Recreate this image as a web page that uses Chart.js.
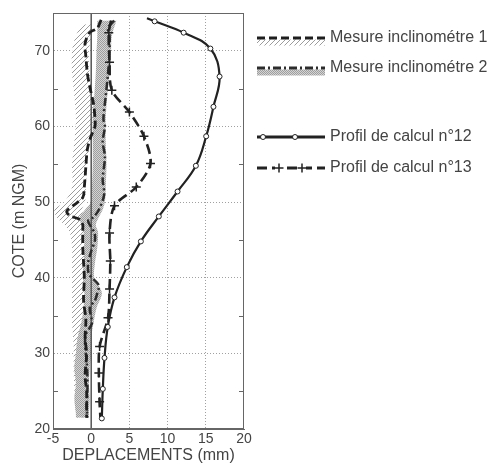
<!DOCTYPE html>
<html>
<head>
<meta charset="utf-8">
<script src="https://cdn.jsdelivr.net/npm/chart.js@4.4.0/dist/chart.umd.min.js"></script>
<style>
  html, body { margin: 0; padding: 0; background: #fff; }
  canvas { display: block; }
</style>
</head>
<body>
<canvas id="profilChart" width="489" height="464"></canvas>
<script>
// Mesure inclinometre 1 (dashed line)
var incl1Cote = [74.1, 73, 72.4, 71, 69.3, 67, 65.3, 63, 61, 60, 58.5, 57, 54.7, 52, 50.6, 49.5, 48.8, 48.2, 47.7, 47, 46.5, 44, 42, 40, 37, 34.5, 32, 30, 27, 25, 22, 21.5];
var incl1Depl = [1.3, 0.8, -0.2, -0.8, -0.7, -0.5, -0.2, 0.3, 0.5, 0.5, -0.1, -0.5, -0.7, -0.9, -1.1, -2.4, -3.2, -2.8, -1.5, -1.1, -1.1, -1.1, -1.0, -0.9, -1.0, -0.7, -0.8, -0.6, -0.8, -0.6, -0.6, -0.6];

// Mesure inclinometre 2 (dash-dot line)
var incl2Cote = [74, 73, 72, 70, 67, 64, 61, 60, 58, 56, 53, 51, 49, 48, 47.5, 46, 45, 43.5, 42, 40.5, 39, 38, 37, 36, 34, 32.5, 31, 29, 27, 25, 23, 21.5];
var incl2Depl = [3.0, 2.2, 2.4, 2.4, 2.2, 1.9, 1.6, 1.8, 1.5, 1.8, 1.5, 1.7, 1.0, 0.3, -0.4, 0.4, 0.5, 0.0, -0.4, -0.3, 1.0, 0.8, 0.5, -0.2, 0.1, -0.7, -0.8, -0.6, -0.5, -0.5, -0.6, -0.5];

// hatched envelope of inclinometre 1
var band1Cote = [73.5, 72, 70, 67, 64, 61, 58, 55, 52, 50, 49, 48, 47, 46, 44, 42, 40, 37, 34, 31, 28, 25, 22, 21.5];
var band1Min = [-1.2, -2.0, -2.5, -2.5, -2.2, -2.0, -2.2, -2.5, -2.5, -3.5, -4.8, -4.5, -3.5, -2.8, -2.5, -2.5, -2.5, -2.5, -2.5, -2.3, -2.3, -2.2, -2.0, -2.0];
var band1Max = [0.0, 0.0, -0.3, -0.2, 0.2, 0.4, -0.2, -0.5, -0.7, -0.8, -1.2, -0.9, -0.6, -0.5, -0.6, -0.5, -0.6, -0.6, -0.5, -0.5, -0.5, -0.3, -0.3, -0.3];

// grey envelope of inclinometre 2
var band2Cote = [74, 72, 70, 67, 64, 61, 58, 55, 52, 50, 49, 48, 47, 46, 44, 42, 40, 38, 36, 34, 32, 30, 28, 26, 24, 22, 21.5];
var band2Min = [0.8, 0.8, 0.7, 0.6, 0.4, 0.2, 0.2, 0.2, 0.1, 0.0, -0.8, -1.5, -1.3, -1.0, -0.9, -1.0, -1.1, -0.9, -1.0, -1.3, -1.8, -2.0, -2.2, -2.0, -2.2, -2.0, -2.0];
var band2Max = [3.3, 2.7, 2.6, 2.4, 2.1, 1.9, 1.9, 2.0, 1.9, 1.8, 1.5, 1.0, 0.6, 0.9, 0.8, 0.5, 0.4, 1.4, 0.7, 0.3, 0.0, 0.0, -0.2, -0.3, -0.2, -0.3, -0.3];

// Profil de calcul n°12 (solid, circles)
var p12Cote = [74.3, 73.9, 72.4, 70.3, 66.6, 62.6, 58.7, 54.8, 51.4, 48.1, 44.8, 41.4, 37.4, 33.5, 29.4, 25.3, 21.4];
var p12Depl = [7.3, 8.3, 12.1, 15.6, 16.8, 16.0, 15.05, 13.7, 11.3, 8.85, 6.5, 4.66, 3.05, 2.17, 1.74, 1.52, 1.39];

// Profil de calcul n°13 (dashed, crosses)
var p13Cote = [74, 72.4, 68.5, 64.8, 61.9, 58.7, 55.1, 52.0, 49.5, 45.9, 42.2, 38.5, 34.7, 30.9, 27.4, 23.6, 21.6];
var p13Depl = [2.6, 2.3, 2.4, 2.7, 5.0, 6.9, 7.76, 5.9, 3.05, 2.4, 2.5, 2.4, 2.2, 1.1, 1.0, 1.1, 1.2];

var zeroCote = [20, 75];

var xTicks = [-5, 0, 5, 10, 15, 20];
var yTicks = [20, 30, 40, 50, 60, 70];

var labels = {
    incl1: 'Mesure inclinométre 1',
    incl2: 'Mesure inclinométre 2',
    p12: 'Profil de calcul n°12',
    p13: 'Profil de calcul n°13'
};

function pts(cote, depl) {
    return cote.map(function (c, i) { return { x: depl[i], y: c }; });
}

Chart.defaults.font.family = '"Liberation Sans", Arial, sans-serif';
Chart.defaults.color = '#444';

var canvas = document.getElementById('profilChart');
var ctx = canvas.getContext('2d');

function makeHatch() {
    var c = document.createElement('canvas');
    c.width = 5; c.height = 5;
    var g = c.getContext('2d');
    g.fillStyle = '#fff';
    g.fillRect(0, 0, 5, 5);
    g.strokeStyle = '#9c9c9c';
    g.lineWidth = 1;
    g.beginPath();
    g.moveTo(-1, 6); g.lineTo(6, -1);
    g.moveTo(-1, 1); g.lineTo(1, -1);
    g.moveTo(4, 6); g.lineTo(6, 4);
    g.stroke();
    return ctx.createPattern(c, 'repeat');
}

function makeStipple() {
    var c = document.createElement('canvas');
    c.width = 2; c.height = 2;
    var g = c.getContext('2d');
    g.fillStyle = '#d4d4d4';
    g.fillRect(0, 0, 2, 2);
    g.fillStyle = '#9e9e9e';
    g.fillRect(0, 0, 1, 1);
    g.fillRect(1, 1, 1, 1);
    return ctx.createPattern(c, 'repeat');
}

var hatch = makeHatch();
var stipple = makeStipple();

// frame + small inside ticks (like the matlab box)
var framePlugin = {
    id: 'frame',
    afterDatasetsDraw: function (chart) {
        var a = chart.chartArea, c = chart.ctx, ys = chart.scales.y;
        c.save();
        c.strokeStyle = '#666';
        c.lineWidth = 1;
        c.strokeRect(a.left + 0.5, a.top + 0.5, a.right - a.left - 1, a.bottom - a.top - 1);
        ys.ticks.forEach(function (t) {
            if (t.value % 10 === 0) return;
            var py = Math.round(ys.getPixelForValue(t.value)) + 0.5;
            c.beginPath();
            c.moveTo(a.left, py); c.lineTo(a.left + 5, py);
            c.moveTo(a.right - 5, py); c.lineTo(a.right, py);
            c.stroke();
        });
        c.restore();
    }
};

// legend on the right, drawn from the dataset styles
var legendItems = [
    { ds: 2, y: 38, band: hatch },
    { ds: 3, y: 68, band: stipple },
    { ds: 0, y: 137, marks: [263, 295] },
    { ds: 1, y: 168, marks: [279, 302] }
];

var legendPlugin = {
    id: 'sideLegend',
    afterDraw: function (chart) {
        var c = chart.ctx;
        var x0 = 257, x1 = 325;
        legendItems.forEach(function (it) {
            var ds = chart.data.datasets[it.ds];
            c.save();
            if (it.band) {
                c.fillStyle = it.band;
                c.fillRect(x0, it.y + 1.5, x1 - x0, 6);
            }
            c.strokeStyle = ds.borderColor;
            c.lineWidth = 3;
            c.setLineDash(ds.borderDash || []);
            c.beginPath();
            c.moveTo(x0, it.y); c.lineTo(x1, it.y);
            c.stroke();
            c.setLineDash([]);
            if (it.marks) {
                it.marks.forEach(function (mx) {
                    c.fillStyle = '#fff';
                    c.strokeStyle = '#222';
                    if (ds.pointStyle === 'cross') {
                        c.fillRect(mx - 4, it.y - 2, 8, 4);
                        c.lineWidth = 1.5;
                        c.beginPath();
                        c.moveTo(mx - 4.5, it.y); c.lineTo(mx + 4.5, it.y);
                        c.moveTo(mx, it.y - 4.5); c.lineTo(mx, it.y + 4.5);
                        c.stroke();
                    } else {
                        c.lineWidth = 1;
                        c.beginPath();
                        c.arc(mx, it.y, 2.5, 0, Math.PI * 2);
                        c.fill();
                        c.stroke();
                    }
                });
            }
            c.fillStyle = '#444';
            c.font = '16px "Liberation Sans", Arial, sans-serif';
            c.textBaseline = 'middle';
            c.fillText(ds.label, 330, it.y);
            c.restore();
        });
    }
};

var chartData = {
    datasets: [
        {
            label: labels.p12,
            data: pts(p12Cote, p12Depl),
            borderColor: '#222',
            borderWidth: 2.2,
            tension: 0.4,
            pointStyle: 'circle',
            pointRadius: function (c) { return c.dataIndex === 0 ? 0 : 2.5; },
            pointBackgroundColor: '#fff',
            pointBorderColor: '#222',
            pointBorderWidth: 1,
            fill: false
        },
        {
            label: labels.p13,
            data: pts(p13Cote, p13Depl),
            borderColor: '#222',
            borderWidth: 2.6,
            borderDash: [10, 5],
            tension: 0.3,
            pointStyle: 'cross',
            pointRadius: function (c) {
                return (c.dataIndex === 0 || c.dataIndex === p13Cote.length - 1) ? 0 : 4.5;
            },
            pointBorderColor: '#222',
            pointBorderWidth: 1.5,
            fill: false
        },
        {
            label: labels.incl1,
            data: pts(incl1Cote, incl1Depl),
            borderColor: '#1e1e1e',
            borderWidth: 2.8,
            borderDash: [8, 4],
            tension: 0.3,
            pointRadius: 0,
            fill: false
        },
        {
            label: labels.incl2,
            data: pts(incl2Cote, incl2Depl),
            borderColor: '#2c2c2c',
            borderWidth: 2.5,
            borderDash: [8, 3, 2, 3],
            tension: 0.3,
            pointRadius: 0,
            fill: false
        },
        {
            label: 'zero',
            data: zeroCote.map(function (c) { return { x: 0, y: c }; }),
            borderColor: '#555',
            borderWidth: 1.5,
            pointRadius: 0,
            fill: false
        },
        {
            label: 'band2min',
            data: pts(band2Cote, band2Min),
            borderWidth: 0,
            pointRadius: 0,
            tension: 0.3,
            fill: false
        },
        {
            label: 'band2max',
            data: pts(band2Cote, band2Max),
            borderWidth: 0,
            pointRadius: 0,
            tension: 0.3,
            backgroundColor: stipple,
            fill: '-1'
        },
        {
            label: 'band1min',
            data: pts(band1Cote, band1Min),
            borderWidth: 0,
            pointRadius: 0,
            tension: 0.3,
            fill: false
        },
        {
            label: 'band1max',
            data: pts(band1Cote, band1Max),
            borderWidth: 0,
            pointRadius: 0,
            tension: 0.3,
            backgroundColor: hatch,
            fill: '-1'
        }
    ]
};

var profilChart = new Chart(ctx, {
    type: 'line',
    data: chartData,
    plugins: [framePlugin, legendPlugin],
    options: {
        indexAxis: 'y',
        responsive: false,
        animation: false,
        devicePixelRatio: 1,
        layout: { padding: { left: 0, right: 245, top: 13, bottom: 0 } },
        plugins: {
            legend: { display: false },
            tooltip: { enabled: false }
        },
        scales: {
            x: {
                type: 'linear',
                position: 'bottom',
                min: -5,
                max: 20,
                afterBuildTicks: function (s) { s.ticks = xTicks.map(function (v) { return { value: v }; }); },
                ticks: { padding: 2, maxRotation: 0, font: { size: 14 }, color: '#444' },
                grid: {
                    drawTicks: false,
                    lineWidth: 1,
                    color: function (c) {
                        var v = c.tick ? c.tick.value : null;
                        return (v === -5 || v === 0 || v === 20) ? 'rgba(0,0,0,0)' : '#a0a0a0';
                    }
                },
                border: { display: true, color: '#666', dash: [1, 2] },
                title: {
                    display: true,
                    text: 'DEPLACEMENTS (mm)',
                    color: '#444',
                    font: { size: 16, lineHeight: 1 },
                    padding: { top: 0, bottom: 0 }
                },
                afterFit: function (s) { s.height = 35; }
            },
            y: {
                type: 'linear',
                min: 20,
                max: 75,
                afterBuildTicks: function (s) {
                    var t = [];
                    for (var v = 20; v <= 75; v += 5) t.push({ value: v });
                    s.ticks = t;
                },
                ticks: {
                    padding: 3,
                    font: { size: 14 },
                    color: '#444',
                    callback: function (v) { return yTicks.indexOf(v) >= 0 ? String(v) : ''; }
                },
                grid: {
                    drawTicks: false,
                    lineWidth: 1,
                    color: function (c) {
                        var v = c.tick ? c.tick.value : null;
                        return (v % 10 === 0 && v !== 20) ? '#a0a0a0' : 'rgba(0,0,0,0)';
                    }
                },
                border: { display: true, color: '#666', dash: [1, 2] },
                title: {
                    display: true,
                    text: 'COTE (m NGM)',
                    color: '#444',
                    font: { size: 16, lineHeight: 1.2 },
                    padding: { top: 10, bottom: 0 }
                },
                afterFit: function (s) { s.width = 53; }
            }
        }
    }
});
</script>
</body>
</html>
